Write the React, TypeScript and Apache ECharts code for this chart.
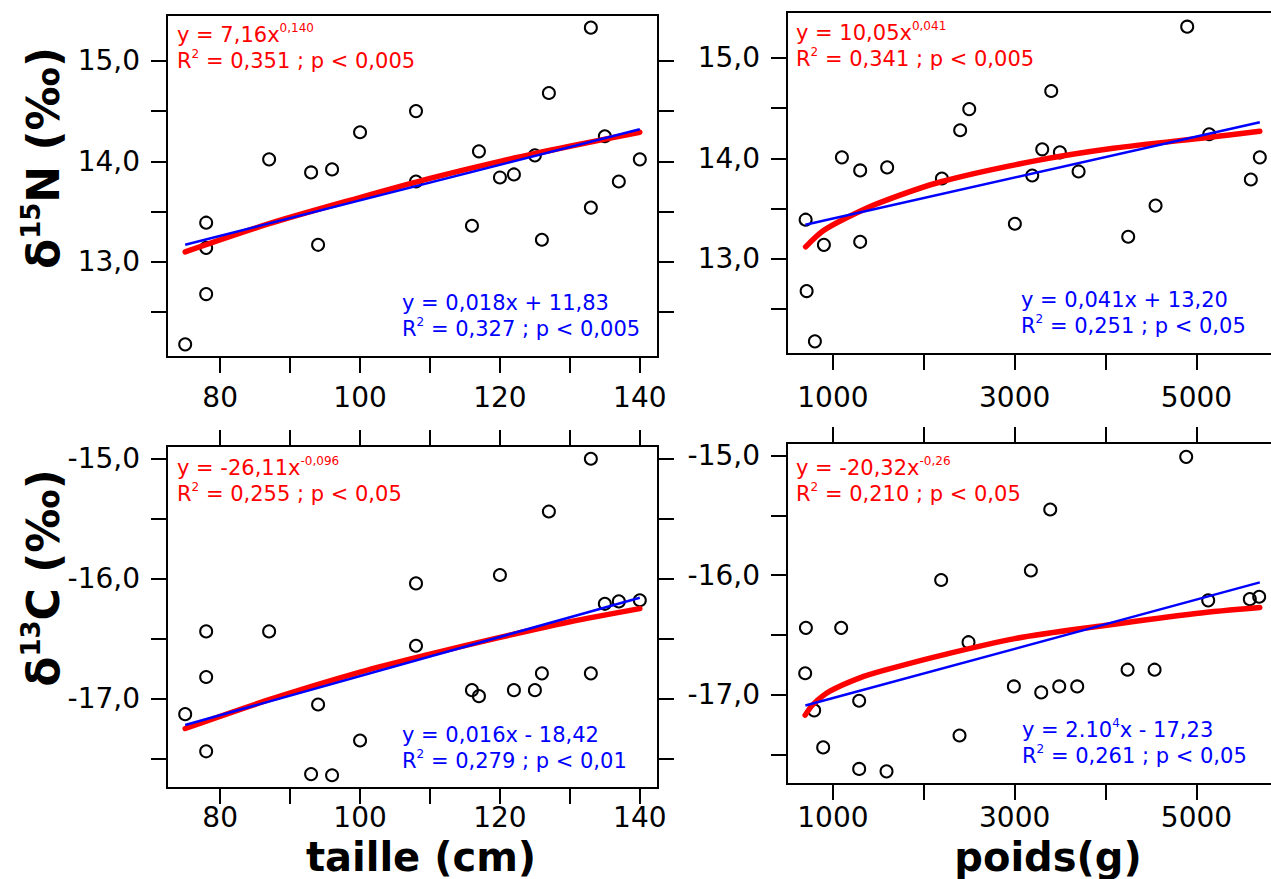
import React, { useEffect, useRef } from "react";
import * as echarts from "echarts";

// ---------- data ----------
const tailleN = [75, 78, 78, 78, 87, 93, 94, 96, 100, 108, 108, 116, 117, 120, 122, 125, 126, 127, 133, 133, 135, 137, 140];
const d15N_taille = [12.18, 13.39, 13.14, 12.68, 14.02, 13.89, 13.17, 13.92, 14.29, 14.5, 13.8, 13.36, 14.1, 13.84, 13.87, 14.06, 13.22, 14.68, 15.33, 13.54, 14.25, 13.8, 14.02];

const tailleC = [75, 78, 78, 78, 87, 94, 93, 96, 100, 108, 108, 116, 117, 120, 122, 125, 126, 127, 133, 133, 135, 137, 140];
const d13C_taille = [-17.13, -16.44, -16.82, -17.44, -16.44, -17.05, -17.63, -17.64, -17.35, -16.04, -16.56, -16.93, -16.98, -15.97, -16.93, -16.93, -16.79, -15.44, -15.0, -16.79, -16.21, -16.19, -16.18];

const poidsN = [700, 711, 802, 901, 1099, 1300, 1300, 1597, 2199, 2400, 2500, 3002, 3193, 3303, 3402, 3497, 3703, 4249, 4550, 4898, 5140, 5598, 5697];
const d15N_poids = [13.39, 12.68, 12.18, 13.14, 14.01, 13.88, 13.17, 13.91, 13.8, 14.28, 14.49, 13.35, 13.83, 14.09, 14.67, 14.06, 13.87, 13.22, 13.53, 15.31, 14.24, 13.79, 14.01];

const poidsC = [703, 695, 794, 893, 1091, 1289, 1289, 1590, 2191, 2393, 2492, 2991, 3178, 3292, 3391, 3490, 3688, 4242, 4539, 4887, 5129, 5587, 5690];
const d13C_poids = [-16.44, -16.82, -17.13, -17.44, -16.44, -17.05, -17.62, -17.64, -16.04, -17.34, -16.56, -16.93, -15.96, -16.98, -15.45, -16.93, -16.93, -16.79, -16.79, -15.01, -16.21, -16.2, -16.18];

// fitted curves
const linTailleX = [75, 140];
const linN_taille = [13.17, 14.32];
const linC_taille = [-17.22, -16.16];
const powTailleX = [75, 87, 100, 110, 120, 130, 140];
const powN_taille = [13.1, 13.38, 13.64, 13.83, 14.0, 14.15, 14.29];
const powC_taille = [-17.25, -17.01, -16.78, -16.63, -16.49, -16.36, -16.25];

const linPoidsX = [697, 5697];
const linN_poids = [13.34, 14.36];
const linC_poids = [-17.09, -16.06];
const powPoidsNX = [700, 893, 1151, 1517, 2199, 3193, 4084, 5140, 5697];
const powN_poids = [13.12, 13.28, 13.41, 13.56, 13.77, 13.97, 14.1, 14.21, 14.27];
const powPoidsCX = [695, 783, 967, 1289, 1590, 2191, 3002, 3992, 4993, 5697];
const powC_poids = [-17.17, -17.08, -16.97, -16.86, -16.79, -16.67, -16.53, -16.42, -16.32, -16.27];

// ticks
const tailleTicks = [80, 90, 100, 110, 120, 130, 140];
const tailleLabels = [80, 100, 120, 140];
const poidsTicks = [1000, 2000, 3000, 4000, 5000];
const poidsLabels = [1000, 3000, 5000];
const nTicks = [12.5, 13, 13.5, 14, 14.5, 15];
const nLabels = [13, 14, 15];
const cTicks = [-17.5, -17, -16.5, -16, -15.5, -15];
const cLabels = [-17, -16, -15];

const FONT = "'DejaVu Sans', sans-serif";

const zip = (xs: number[], ys: number[]) => xs.map((x, i) => [x, ys[i]]);
const fmt = (v: number) => v.toFixed(1).replace(".", ",");

export default function App() {
  const ref = useRef<HTMLDivElement>(null);
  useEffect(() => {
    if (!ref.current) return;
    const chart = echarts.init(ref.current, undefined, { renderer: "svg" });

    const grids = [
      { left: 167, top: 15, width: 491, height: 342 },
      { left: 787, top: 12, width: 491, height: 342 },
      { left: 167, top: 446, width: 491, height: 342 },
      { left: 787, top: 443, width: 491, height: 341 },
    ].map((g) => ({ ...g, show: true, borderColor: "#000", borderWidth: 2, backgroundColor: "transparent", containLabel: false }));

    const tickStyle = { show: true, inside: false, length: 16, lineStyle: { color: "#000", width: 2 } };
    const labelStyle = { color: "#000", fontSize: 28, fontFamily: FONT };

    const xMain = (gi: number, min: number, max: number, ticks: number[], labels: number[], margin: number) => ({
      type: "value",
      gridIndex: gi,
      position: "bottom",
      min,
      max,
      axisLine: { show: false },
      splitLine: { show: false },
      axisTick: { ...tickStyle, customValues: ticks },
      axisLabel: { ...labelStyle, lineHeight: 24, margin, customValues: labels, formatter: (v: number) => String(v) },
    });
    const xTop = (gi: number, min: number, max: number, ticks: number[]) => ({
      type: "value",
      gridIndex: gi,
      position: "top",
      min,
      max,
      axisLine: { show: false },
      splitLine: { show: false },
      axisTick: { ...tickStyle, customValues: ticks },
      axisLabel: { show: false },
    });
    const yLeft = (gi: number, min: number, max: number, ticks: number[], labels: number[]) => ({
      type: "value",
      gridIndex: gi,
      position: "left",
      min,
      max,
      axisLine: { show: false },
      splitLine: { show: false },
      axisTick: { ...tickStyle, customValues: ticks },
      axisLabel: { ...labelStyle, margin: 27, customValues: labels, formatter: fmt },
    });
    const yRight = (gi: number, min: number, max: number, ticks: number[]) => ({
      type: "value",
      gridIndex: gi,
      position: "right",
      min,
      max,
      axisLine: { show: false },
      splitLine: { show: false },
      axisTick: { ...tickStyle, customValues: ticks },
      axisLabel: { show: false },
    });

    const tMin = 72.4, tMax = 142.6;
    const pMin = 495, pMax = 5897;
    const nMin = 12.054, nMax = 15.456;
    const cMin = -17.746, cMax = -14.894;

    const xAxis = [
      xMain(0, tMin, tMax, tailleTicks, tailleLabels, 28),
      xMain(1, pMin, pMax, poidsTicks, poidsLabels, 31),
      xMain(2, tMin, tMax, tailleTicks, tailleLabels, 17),
      xMain(3, pMin, pMax, poidsTicks, poidsLabels, 21),
      xTop(2, tMin, tMax, tailleTicks),
      xTop(3, pMin, pMax, poidsTicks),
    ];
    const yAxis = [
      yLeft(0, nMin, nMax, nTicks, nLabels),
      yLeft(1, nMin, nMax, nTicks, nLabels),
      yLeft(2, cMin, cMax, cTicks, cLabels),
      yLeft(3, cMin, cMax, cTicks, cLabels),
      yRight(0, nMin, nMax, nTicks),
      yRight(1, nMin, nMax, nTicks),
      yRight(2, cMin, cMax, cTicks),
      yRight(3, cMin, cMax, cTicks),
    ];

    const scatter = (i: number, xs: number[], ys: number[]) => ({
      type: "scatter",
      xAxisIndex: i,
      yAxisIndex: i,
      data: zip(xs, ys),
      symbol: "circle",
      symbolSize: 12,
      itemStyle: { color: "rgba(255,255,255,0)", borderColor: "#000", borderWidth: 2, opacity: 1 },
      z: 2,
      silent: true,
    });
    const red = (i: number, xs: number[], ys: number[]) => ({
      type: "line",
      xAxisIndex: i,
      yAxisIndex: i,
      data: zip(xs, ys),
      showSymbol: false,
      symbol: "none",
      smooth: 0.3,
      lineStyle: { color: "#ff0000", width: 5.5, cap: "round", join: "round" },
      z: 3,
      silent: true,
    });
    const blue = (i: number, xs: number[], ys: number[]) => ({
      type: "line",
      xAxisIndex: i,
      yAxisIndex: i,
      data: zip(xs, ys),
      showSymbol: false,
      symbol: "none",
      lineStyle: { color: "#0000ff", width: 2.5 },
      z: 4,
      silent: true,
    });

    const series = [
      scatter(0, tailleN, d15N_taille),
      red(0, powTailleX, powN_taille),
      blue(0, linTailleX, linN_taille),
      scatter(1, poidsN, d15N_poids),
      red(1, powPoidsNX, powN_poids),
      blue(1, linPoidsX, linN_poids),
      scatter(2, tailleC, d13C_taille),
      red(2, powTailleX, powC_taille),
      blue(2, linTailleX, linC_taille),
      scatter(3, poidsC, d13C_poids),
      red(3, powPoidsCX, powC_poids),
      blue(3, linPoidsX, linC_poids),
    ];

    const richFor = (color: string) => ({
      a: { fill: color, fontSize: 21, fontFamily: FONT, lineHeight: 26 },
      s: { fill: color, fontSize: 12, fontFamily: FONT, lineHeight: 10, verticalAlign: "top" },
    });
    const ann = (x: number, y: number, color: string, text: string) => ({
      type: "text",
      x,
      y,
      z: 10,
      style: { text, rich: richFor(color), align: "left", verticalAlign: "top", fill: color, font: `21px ${FONT}` },
    });

    const titleRich = {
      b: { fill: "#000", fontSize: 44, fontWeight: "bold", fontFamily: FONT, lineHeight: 50 },
      s: { fill: "#000", fontSize: 26, fontWeight: "bold", fontFamily: FONT, lineHeight: 30, verticalAlign: "top" },
    };

    const graphic = [
      ann(177, 22, "#ff0000", "{a|y = 7,16x}{s|0,140}\n{a|R}{s|2}{a| = 0,351 ; p < 0,005}"),
      ann(402, 290, "#0000ff", "{a|y = 0,018x + 11,83}\n{a|R}{s|2}{a| = 0,327 ; p < 0,005}"),
      ann(796, 20, "#ff0000", "{a|y = 10,05x}{s|0,041}\n{a|R}{s|2}{a| = 0,341 ; p < 0,005}"),
      ann(1021, 287, "#0000ff", "{a|y = 0,041x + 13,20}\n{a|R}{s|2}{a| = 0,251 ; p < 0,05}"),
      ann(177, 455, "#ff0000", "{a|y = -26,11x}{s|-0,096}\n{a|R}{s|2}{a| = 0,255 ; p < 0,05}"),
      ann(402, 722, "#0000ff", "{a|y = 0,016x - 18,42}\n{a|R}{s|2}{a| = 0,279 ; p < 0,01}"),
      ann(796, 455, "#ff0000", "{a|y = -20,32x}{s|-0,26}\n{a|R}{s|2}{a| = 0,210 ; p < 0,05}"),
      ann(1022, 717, "#0000ff", "{a|y = 2.10}{s|4}{a|x - 17,23}\n{a|R}{s|2}{a| = 0,261 ; p < 0,05}"),
      {
        type: "text",
        x: 43,
        y: 158,
        rotation: Math.PI / 2,
        style: { text: "{b|δ}{s|15}{b|N (‰)}", align: "center", verticalAlign: "middle", rich: titleRich },
      },
      {
        type: "text",
        x: 43,
        y: 578,
        rotation: Math.PI / 2,
        style: { text: "{b|δ}{s|13}{b|C (‰)}", align: "center", verticalAlign: "middle", rich: titleRich },
      },
      {
        type: "text",
        x: 421,
        y: 857,
        style: { text: "taille (cm)", fill: "#000", font: `bold 40px ${FONT}`, lineHeight: 38, align: "center", verticalAlign: "middle" },
      },
      {
        type: "text",
        x: 1048,
        y: 857,
        style: { text: "poids(g)", fill: "#000", font: `bold 40px ${FONT}`, lineHeight: 38, align: "center", verticalAlign: "middle" },
      },
    ];

    chart.setOption({
      animation: false,
      backgroundColor: "#fff",
      grid: grids,
      xAxis,
      yAxis,
      series,
      graphic,
    });
    return () => chart.dispose();
  }, []);

  return (
    <div style={{ position: "fixed", left: 0, top: 0, width: 1271, height: 879, overflow: "hidden", background: "#fff" }}>
      <div ref={ref} style={{ width: 1300, height: 879 }} />
    </div>
  );
}
